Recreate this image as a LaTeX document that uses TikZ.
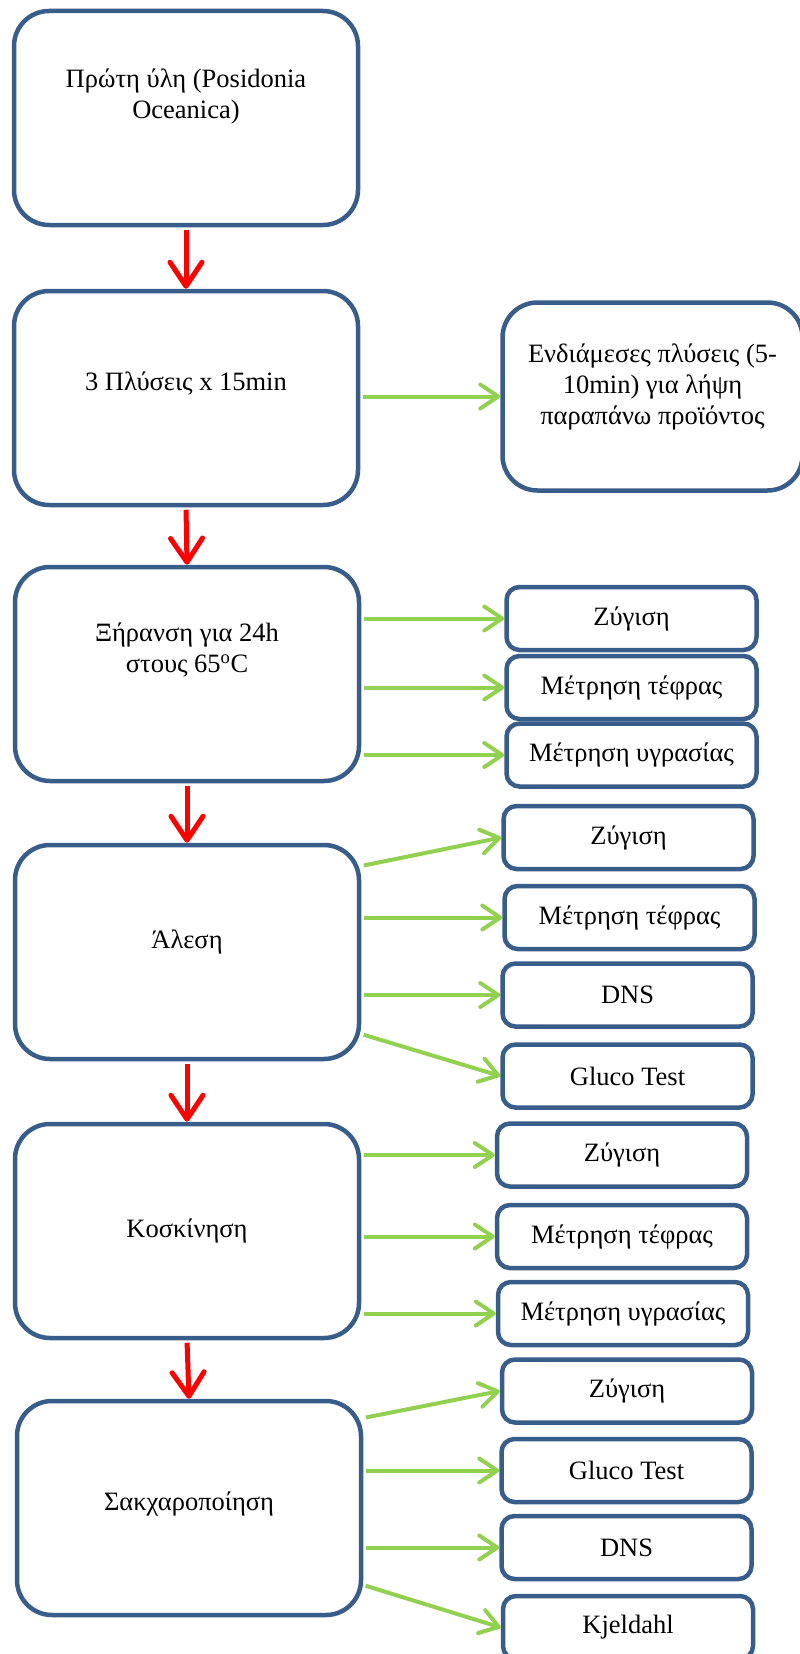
\documentclass[tikz,border=0pt]{standalone}
\usepackage{fontspec}
\setmainfont{Liberation Serif}
\usetikzlibrary{arrows.meta}

\definecolor{boxblue}{HTML}{385D8A}
\definecolor{leafgreen}{HTML}{92D050}

\tikzset{
  bigbox/.style={draw=boxblue, line width=4.5pt, rounded corners=35pt, fill=white,
    minimum width=344pt, minimum height=214pt},
  smallbox/.style={draw=boxblue, line width=4.5pt, rounded corners=13pt, fill=white,
    minimum width=250pt, minimum height=63pt, font=\fontsize{26.5}{31}\selectfont},
  mainarrow/.style={draw=red, line width=5pt, shorten <=2.5pt,
    -{Straight Barb[length=24pt,width=32pt,round]}},
  sidearrow/.style={draw=leafgreen, line width=4pt, shorten <=2.5pt,
    -{Straight Barb[length=18pt,width=24pt,round]}},
  every label/.style={align=center, font=\fontsize{26.5}{31}\selectfont}
}

\begin{document}
\begin{tikzpicture}[x=1pt,y=-1pt]
\useasboundingbox (0,0) rectangle (800,1654);

\node[bigbox, label={[yshift=22pt]center:{Πρώτη ύλη (Posidonia\\Oceanica)}}] (raw) at (186,118) {};
\node[bigbox, label={[yshift=15pt]center:{3 Πλύσεις x 15min}}] (wash) at (186,398) {};
\node[bigbox, minimum width=300pt, minimum height=188pt,
  label={[yshift=10pt]center:{Ενδιάμεσες πλύσεις (5-\\10min) για λήψη\\παραπάνω προϊόντος}}] (rinse) at (652.5,396.5) {};
\node[bigbox, label={[yshift=24pt]center:{Ξήρανση για 24h\\στους 65\textsuperscript{o}C}}] (dry) at (187,674) {};
\node[bigbox, label={[yshift=10pt]center:{Άλεση}}] (mill) at (187,952) {};
\node[bigbox, label={[yshift=0pt]center:{Κοσκίνηση}}] (sieve) at (187,1231) {};
\node[bigbox, label={[yshift=4pt]center:{Σακχαροποίηση}}] (sacch) at (189,1508) {};

\node[smallbox] (weigh3) at (631.5,618.5) {Ζύγιση};
\node[smallbox] (ash3) at (631.5,687.5) {Μέτρηση τέφρας};
\node[smallbox] (moist3) at (631.5,755) {Μέτρηση υγρασίας};

\node[smallbox] (weigh4) at (628.5,837.5) {Ζύγιση};
\node[smallbox] (ash4) at (629.5,917.5) {Μέτρηση τέφρας};
\node[smallbox] (dns4) at (627.5,995) {DNS};
\node[smallbox] (gluco4) at (627.5,1076) {Gluco Test};

\node[smallbox] (weigh5) at (622,1155) {Ζύγιση};
\node[smallbox] (ash5) at (622,1236.5) {Μέτρηση τέφρας};
\node[smallbox] (moist5) at (623,1313.5) {Μέτρηση υγρασίας};

\node[smallbox] (weigh6) at (627,1391) {Ζύγιση};
\node[smallbox] (gluco6) at (626.5,1470.5) {Gluco Test};
\node[smallbox] (dns6) at (626.5,1547.5) {DNS};
\node[smallbox] (kjel6) at (628,1627.5) {Kjeldahl};

\draw[mainarrow] (raw.south) -- (wash.north);
\draw[mainarrow] (wash.south) -- (dry.north);
\draw[mainarrow] (dry.south) -- (mill.north);
\draw[mainarrow] (mill.south) -- (sieve.north);
\draw[mainarrow] (sieve.south) -- (sacch.north);

\draw[sidearrow] (wash.east |- rinse.west) -- (rinse.west);

\draw[sidearrow] (dry.east |- weigh3.west) -- (weigh3.west);
\draw[sidearrow] (dry.east |- ash3.west) -- (ash3.west);
\draw[sidearrow] (dry.east |- moist3.west) -- (moist3.west);

\draw[sidearrow] ([yshift=86pt]mill.east) -- (weigh4.west);
\draw[sidearrow] (mill.east |- ash4.west) -- (ash4.west);
\draw[sidearrow] (mill.east |- dns4.west) -- (dns4.west);
\draw[sidearrow] ([yshift=-82pt]mill.east) -- (gluco4.west);

\draw[sidearrow] (sieve.east |- weigh5.west) -- (weigh5.west);
\draw[sidearrow] (sieve.east |- ash5.west) -- (ash5.west);
\draw[sidearrow] (sieve.east |- moist5.west) -- (moist5.west);

\draw[sidearrow] ([yshift=90pt]sacch.east) -- (weigh6.west);
\draw[sidearrow] (sacch.east |- gluco6.west) -- (gluco6.west);
\draw[sidearrow] (sacch.east |- dns6.west) -- (dns6.west);
\draw[sidearrow] ([yshift=-77pt]sacch.east) -- (kjel6.west);

\end{tikzpicture}
\end{document}
